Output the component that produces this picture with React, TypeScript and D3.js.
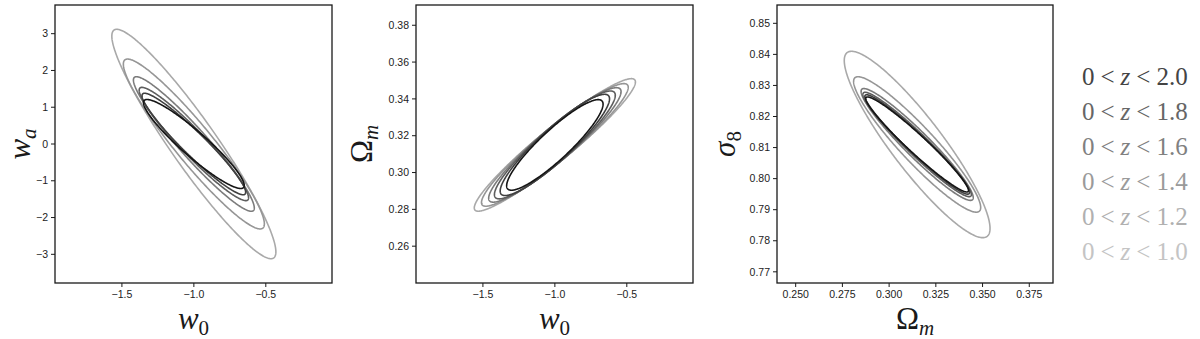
import React from 'react';
import * as d3 from 'd3';

// redshift bins, outer (lightest) to inner (darkest)
const zMax = ['1.0', '1.2', '1.4', '1.6', '1.8', '2.0'];
const lineColors = ['#a9a9a9', '#969696', '#7c7c7c', '#5e5e5e', '#404040', '#151515'];
const legendColors = ['#c4c4c4', '#b0b0b0', '#9a9a9a', '#808080', '#666666', '#444444'];

// panel 1: w0 vs wa
const w0wa_center = [-1.0, 0.0];
const w0wa_sx = [0.57, 0.49, 0.42, 0.38, 0.36, 0.35];
const w0wa_sy = [3.12, 2.31, 1.83, 1.54, 1.38, 1.21];
const w0wa_rho = [-0.94, -0.94, -0.95, -0.95, -0.95, -0.93];

// panel 2: w0 vs Omega_m
const w0om_center = [-1.0, 0.315];
const w0om_sx = [0.56, 0.51, 0.46, 0.42, 0.38, 0.335];
const w0om_sy = [0.036, 0.0333, 0.0311, 0.0293, 0.0275, 0.0246];
const w0om_rho = [0.95, 0.94, 0.93, 0.92, 0.91, 0.9];

// panel 3: Omega_m vs sigma8
const oms8_center = [0.315, 0.811];
const oms8_sx = [0.039, 0.034, 0.03, 0.029, 0.028, 0.0275];
const oms8_sy = [0.03, 0.0218, 0.018, 0.0168, 0.016, 0.0153];
const oms8_rho = [-0.9, -0.93, -0.95, -0.96, -0.965, -0.965];

const w0Ticks = [-1.5, -1.0, -0.5];
const waTicks = [3, 2, 1, 0, -1, -2, -3];
const omTicks = [0.38, 0.36, 0.34, 0.32, 0.3, 0.28, 0.26];
const omTicks3 = [0.25, 0.275, 0.3, 0.325, 0.35, 0.375];
const s8Ticks = [0.85, 0.84, 0.83, 0.82, 0.81, 0.8, 0.79, 0.78, 0.77];

const TOP = 5;
const BOTTOM = 283;
const tickFont = "'Liberation Sans', Arial, sans-serif";
const mathFont = "'Liberation Serif', 'Times New Roman', serif";

const fmt = (dec: number) => (v: number) => d3.format(`.${dec}f`)(v).replace('-', '\u2212');

function ellipsePath(x, y, cx, cy, sx, sy, rho) {
  const ts = d3.range(0, 2 * Math.PI, Math.PI / 180);
  const k = Math.sqrt(1 - rho * rho);
  const line = d3
    .line<number>()
    .x(t => x(cx + sx * Math.cos(t)))
    .y(t => y(cy + sy * (rho * Math.cos(t) + k * Math.sin(t))))
    .curve(d3.curveLinearClosed);
  return line(ts);
}

function Panel({ left, right, xDomain, yDomain, xTicks, yTicks, xDec, yDec, center, sxs, sys, rhos, xLabel, yLabel, yLabelX }) {
  const x = d3.scaleLinear().domain(xDomain).range([left, right]);
  const y = d3.scaleLinear().domain(yDomain).range([BOTTOM, TOP]);
  return (
    <g>
      <g>
        {sxs.map((sx, i) => (
          <path
            key={i}
            d={ellipsePath(x, y, center[0], center[1], sx, sys[i], rhos[i])}
            fill="none"
            stroke={lineColors[i]}
            strokeWidth={1.6}
          />
        ))}
      </g>
      <rect x={left} y={TOP} width={right - left} height={BOTTOM - TOP} fill="none" stroke="#1a1a1a" strokeWidth={1.3} />
      {xTicks.map(t => (
        <g key={t} transform={`translate(${x(t)},${BOTTOM})`}>
          <line y2={4} stroke="#1a1a1a" strokeWidth={1} />
          <text y={15} textAnchor="middle" fontFamily={tickFont} fontSize={10.5} fill="#222">
            {fmt(xDec)(t)}
          </text>
        </g>
      ))}
      {yTicks.map(t => (
        <g key={t} transform={`translate(${left},${y(t)})`}>
          <line x2={-4} stroke="#1a1a1a" strokeWidth={1} />
          <text x={-7} dy="0.35em" textAnchor="end" fontFamily={tickFont} fontSize={10.5} fill="#222">
            {fmt(yDec)(t)}
          </text>
        </g>
      ))}
      <text x={(left + right) / 2} y={329} textAnchor="middle" fontFamily={mathFont} fontSize={31} fill="#1a1a1a">
        {xLabel}
      </text>
      <text
        transform={`translate(${yLabelX},${(TOP + BOTTOM) / 2}) rotate(-90)`}
        textAnchor="middle"
        fontFamily={mathFont}
        fontSize={31}
        fill="#1a1a1a"
      >
        {yLabel}
      </text>
    </g>
  );
}

const sub = (s: string, italic = false) => (
  <tspan fontSize={21} dy={6} fontStyle={italic ? 'italic' : 'normal'}>
    {s}
  </tspan>
);

const w = <tspan fontStyle="italic">w</tspan>;

export default function App() {
  return (
    <svg width={1200} height={339} style={{ position: 'absolute', left: 0, top: 0, background: '#fff' }}>
      <Panel
        left={55}
        right={332}
        xDomain={[-1.965, -0.04]}
        yDomain={[-3.78, 3.78]}
        xTicks={w0Ticks}
        yTicks={waTicks}
        xDec={1}
        yDec={0}
        center={w0wa_center}
        sxs={w0wa_sx}
        sys={w0wa_sy}
        rhos={w0wa_rho}
        xLabel={<>{w}{sub('0')}</>}
        yLabel={<>{w}{sub('a', true)}</>}
        yLabelX={30}
      />
      <Panel
        left={416}
        right={693}
        xDomain={[-1.965, -0.04]}
        yDomain={[0.24, 0.391]}
        xTicks={w0Ticks}
        yTicks={omTicks}
        xDec={1}
        yDec={2}
        center={w0om_center}
        sxs={w0om_sx}
        sys={w0om_sy}
        rhos={w0om_rho}
        xLabel={<>{w}{sub('0')}</>}
        yLabel={<>Ω{sub('m', true)}</>}
        yLabelX={372}
      />
      <Panel
        left={777}
        right={1053}
        xDomain={[0.24, 0.3877]}
        yDomain={[0.7664, 0.8559]}
        xTicks={omTicks3}
        yTicks={s8Ticks}
        xDec={3}
        yDec={2}
        center={oms8_center}
        sxs={oms8_sx}
        sys={oms8_sy}
        rhos={oms8_rho}
        xLabel={<>Ω{sub('m', true)}</>}
        yLabel={<><tspan fontStyle="italic">σ</tspan>{sub('8')}</>}
        yLabelX={735}
      />
      <g fontFamily={mathFont} fontSize={25}>
        {zMax
          .map((zm, i) => ({ zm, i }))
          .reverse()
          .map(({ zm, i }, j) => (
            <text key={zm} x={1082} y={76 + j * 35} dy="0.35em" fill={legendColors[i]}>
              <tspan>0</tspan>
              <tspan dx={6}>&lt;</tspan>
              <tspan dx={6} fontStyle="italic">z</tspan>
              <tspan dx={6}>&lt;</tspan>
              <tspan dx={6}>{zm}</tspan>
            </text>
          ))}
      </g>
    </svg>
  );
}
